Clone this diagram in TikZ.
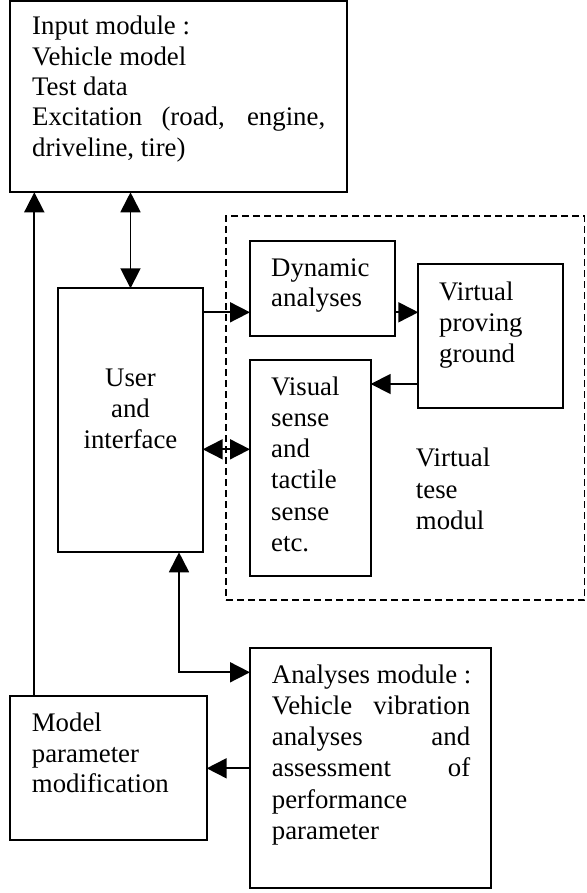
\documentclass[tikz,border=0pt]{standalone}
\usepackage{fontspec}
\setmainfont{Liberation Serif}
\usetikzlibrary{arrows.meta}
\begin{document}
\begin{tikzpicture}[x=1pt,y=-1pt,
  box/.style={draw, line width=1.9pt, inner sep=0pt, outer sep=0pt, anchor=north west},
  grp/.style={draw, line width=1.5pt, dash pattern=on 7pt off 4pt, inner sep=0pt, outer sep=0pt, anchor=north west},
  txt/.style={inner sep=0pt, anchor=base west, font=\fontsize{26.8}{31}\selectfont},
  ctxt/.style={txt, anchor=base},
  link/.style={line width=1.8pt, -{Triangle[length=20pt,width=20pt]}},
  blink/.style={line width=1.8pt, {Triangle[length=20pt,width=20pt]}-{Triangle[length=20pt,width=20pt]}}
]
\useasboundingbox (0,0) rectangle (586,893);

% boxes
\node[box, minimum width=336.5pt, minimum height=191pt] (input) at (10.3,1.3) {};
\node[box, minimum width=144.4pt, minimum height=264pt] (user) at (58.3,288.3) {};
\node[grp, minimum width=358.5pt, minimum height=384pt] (vtm) at (226,216) {};
\node[box, minimum width=145pt, minimum height=95.3pt] (dyn) at (250,240.7) {};
\node[box, minimum width=144.4pt, minimum height=144pt] (vpg) at (418.3,264.3) {};
\node[box, minimum width=120.7pt, minimum height=215.7pt] (vis) at (250,360) {};
\node[box, minimum width=240.7pt, minimum height=240pt] (ana) at (250,648.3) {};
\node[box, minimum width=196.4pt, minimum height=144pt] (model) at (10.3,696) {};

% texts
\node[txt] (in1) at (32,35) {Input module :};
\node[txt] (in2) at (32,65.5) {Vehicle model};
\node[txt] (in3) at (32,96) {Test data};
\node[txt] (in4) at (32,126) {\makebox[293pt][s]{Excitation (road, engine,}};
\node[txt] (in5) at (32,157) {driveline, tire)};

\node[ctxt] (us1) at (130.5,386.7) {User};
\node[ctxt] (us2) at (130.5,417.5) {and};
\node[ctxt] (us3) at (130.5,448.3) {interface};

\node[txt] (dy1) at (271,276) {Dynamic};
\node[txt] (dy2) at (271,306.5) {analyses};

\node[txt] (vp1) at (439,300) {Virtual};
\node[txt] (vp2) at (439,331) {proving};
\node[txt] (vp3) at (439,362) {ground};

\node[txt] (vi1) at (271,395) {Visual};
\node[txt] (vi2) at (271,426.3) {sense};
\node[txt] (vi3) at (271,457.6) {and};
\node[txt] (vi4) at (271,488.9) {tactile};
\node[txt] (vi5) at (271,520.2) {sense};
\node[txt] (vi6) at (271,551.5) {etc.};

\node[txt] (vt1) at (415.7,466.7) {Virtual};
\node[txt] (vt2) at (415.7,498) {tese};
\node[txt] (vt3) at (415.7,529.3) {modul};

\node[txt] (an1) at (271.7,683.3) {Analyses module :};
\node[txt] (an2) at (271.7,714.5) {\makebox[198.3pt][s]{Vehicle vibration}};
\node[txt] (an3) at (271.7,745.7) {\makebox[198.3pt][s]{analyses and}};
\node[txt] (an4) at (271.7,776.9) {\makebox[198.3pt][s]{assessment of}};
\node[txt] (an5) at (271.7,808.1) {performance};
\node[txt] (an6) at (271.7,839.3) {parameter};

\node[txt] (mo1) at (31.7,731.7) {Model};
\node[txt] (mo2) at (31.7,762.2) {parameter};
\node[txt] (mo3) at (31.7,792.7) {modification};

% routing levels of the connectors
\coordinate (lx) at (34.3,0);
\coordinate (bx) at (179,0);
\coordinate (ya) at (0,312.3);
\coordinate (yb) at (0,384);
\coordinate (yc) at (0,449.3);
\coordinate (yd) at (0,672.3);
\coordinate (ye) at (0,768.3);

% connectors
\draw[link] (lx |- model.north) -- (lx |- input.south);
\draw[blink] (user.north) -- (user.north |- input.south);
\draw[link] (user.east |- ya) -- (dyn.west |- ya);
\draw[link] (dyn.east |- ya) -- (vpg.west |- ya);
\draw[link] (vpg.west |- yb) -- (vis.east |- yb);
\draw[blink] (user.east |- yc) -- (vis.west |- yc);
\draw[blink] (bx |- user.south) -- (bx |- yd) -- (ana.west |- yd);
\draw[link] (ana.west |- ye) -- (model.east |- ye);
\end{tikzpicture}
\end{document}
